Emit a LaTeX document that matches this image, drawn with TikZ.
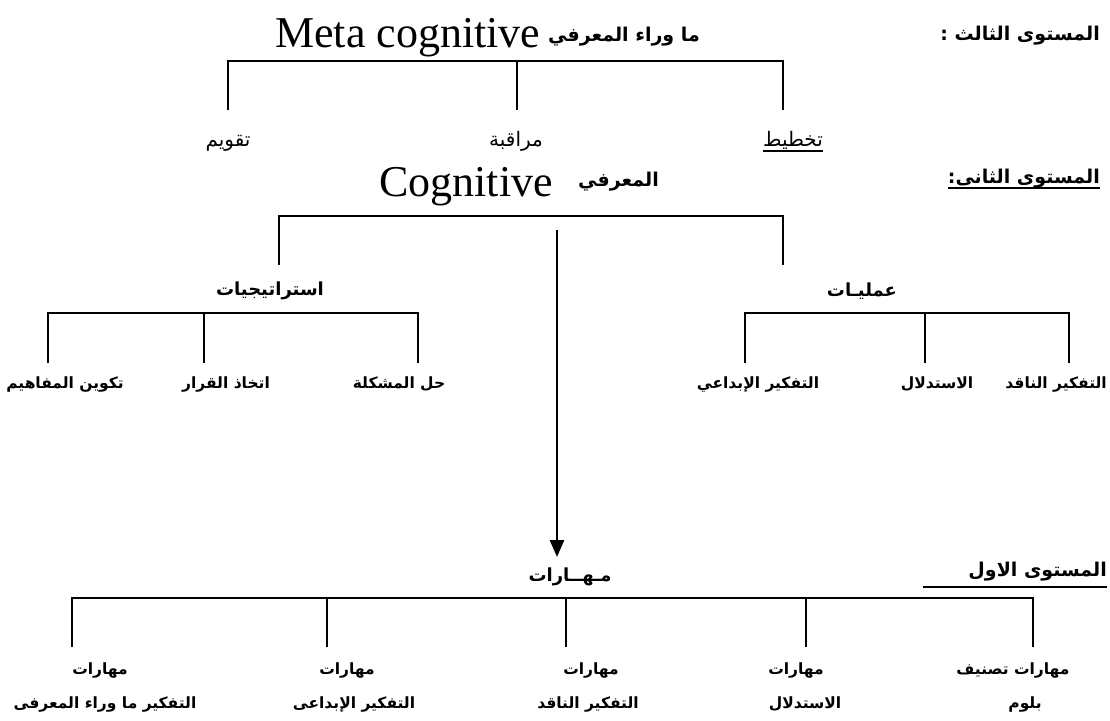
\documentclass[tikz,border=0pt]{standalone}
\usepackage{fontspec}
\setmainfont{Liberation Serif}
\newfontfamily\arfont[Script=Arabic]{DejaVu Sans}
\TeXXeTstate=1
\usetikzlibrary{arrows.meta}
\newcommand{\RL}[1]{\beginR #1\endR}
\begin{document}
\begin{tikzpicture}[x=1pt,y=-1pt,
  wire/.style={line width=2.6pt},
  uline/.style={line width=1.5pt},
  big/.style={font=\fontsize{44}{44}\selectfont, inner sep=0pt},
  hd/.style={font=\arfont\bfseries\fontsize{19}{22}\selectfont, inner sep=0pt},
  sub/.style={font=\arfont\bfseries\fontsize{18}{20}\selectfont, inner sep=0pt},
  meta/.style={font=\arfont\fontsize{20}{22}\selectfont, inner sep=0pt},
  leaf/.style={font=\arfont\bfseries\fontsize{15.5}{18}\selectfont, inner sep=0pt}]
\useasboundingbox[fill=white] (0,0) rectangle (1110,720);

% ---------- Level 3 ----------
\node[hd, anchor=base east] (l3) at (1100,40) {\RL{المستوى الثالث :}};
\node[hd, anchor=base east] (metaar) at (700,41) {\RL{ما وراء المعرفي}};
\node[big, anchor=base west] (metaen) at (275,47) {Meta cognitive};

\node[meta, anchor=base] (taqwim) at (228,146) {\RL{تقويم}};
\node[meta, anchor=base] (muraqaba) at (516,146) {\RL{مراقبة}};
\node[meta, anchor=base] (takhtit) at (793,146) {\RL{تخطيط}};
\draw[uline] ([yshift=-5pt]takhtit.base west) -- ([yshift=-5pt]takhtit.base east);

\coordinate (mb1) at (228,61);
\coordinate (mb2) at (517,61);
\coordinate (mb3) at (783,61);
\coordinate (mt1) at (228,110);
\coordinate (mt2) at (517,110);
\coordinate (mt3) at (783,110);
\draw[wire] (mt1) -- (mb1) -- (mb3) -- (mt3);
\draw[wire] (mb2) -- (mt2);

% ---------- Level 2 ----------
\node[hd, anchor=base east] (l2) at (1100,183) {\RL{المستوى الثانى:}};
\draw[uline] ([yshift=-5pt]l2.base west) -- ([yshift=-5pt]l2.base east);
\node[hd, anchor=base west] (cogar) at (578,186) {\RL{المعرفي}};
\node[big, anchor=base east] (cogen) at (553,196) {Cognitive};

\coordinate (cb1) at (279,216);
\coordinate (cb2) at (783,216);
\coordinate (ct1) at (279,265);
\coordinate (ct2) at (783,265);
\draw[wire] (ct1) -- (cb1) -- (cb2) -- (ct2);

\node[sub] (strat) at (270,291) {\RL{استراتيجيات}};
\node[sub] (amal) at (862,291) {\RL{عمليـات}};

\coordinate (sb1) at (48,313);
\coordinate (sb2) at (204,313);
\coordinate (sb3) at (418,313);
\coordinate (st1) at (48,363);
\coordinate (st2) at (204,363);
\coordinate (st3) at (418,363);
\draw[wire] (st1) -- (sb1) -- (sb3) -- (st3);
\draw[wire] (sb2) -- (st2);

\coordinate (ob1) at (745,313);
\coordinate (ob2) at (925,313);
\coordinate (ob3) at (1069,313);
\coordinate (ot1) at (745,363);
\coordinate (ot2) at (925,363);
\coordinate (ot3) at (1069,363);
\draw[wire] (ot1) -- (ob1) -- (ob3) -- (ot3);
\draw[wire] (ob2) -- (ot2);

\node[leaf] (takwin) at (65,384) {\RL{تكوين المفاهيم}};
\node[leaf] (ittikhadh) at (226,384) {\RL{اتخاذ القرار}};
\node[leaf] (hall) at (399,384) {\RL{حل المشكلة}};
\node[leaf] (ibdai) at (758,384) {\RL{التفكير الإبداعي}};
\node[leaf] (istidlal) at (937,384) {\RL{الاستدلال}};
\node[leaf, anchor=east] (naqid) at (1107,384) {\RL{التفكير الناقد}};

% ---------- Level 1 ----------
\node[sub] (mahar) at (570,577) {\RL{مـهــارات}};
\node[hd, anchor=base east] (l1) at (1107,576) {\RL{المستوى الاول}};
\draw[uline] ([yshift=-11pt]l1.base east) -- ++(-184,0);

\coordinate (arrtop) at (557,230);
\coordinate (arrtip) at (557,557);
\draw[wire, -{Triangle[length=17pt,width=14pt]}] (arrtop) -- (arrtip);

\coordinate (bb1) at (72,598);
\coordinate (bb2) at (327,598);
\coordinate (bb3) at (566,598);
\coordinate (bb4) at (806,598);
\coordinate (bb5) at (1033,598);
\coordinate (bt1) at (72,647);
\coordinate (bt2) at (327,647);
\coordinate (bt3) at (566,647);
\coordinate (bt4) at (806,647);
\coordinate (bt5) at (1033,647);
\draw[wire] (bt1) -- (bb1) -- (bb5) -- (bt5);
\draw[wire] (bb2) -- (bt2);
\draw[wire] (bb3) -- (bt3);
\draw[wire] (bb4) -- (bt4);

\node[leaf] (m1a) at (100,670) {\RL{مهارات}};
\node[leaf] (m1b) at (105,704) {\RL{التفكير ما وراء المعرفى}};
\node[leaf] (m2a) at (347,670) {\RL{مهارات}};
\node[leaf] (m2b) at (354,704) {\RL{التفكير الإبداعى}};
\node[leaf] (m3a) at (591,670) {\RL{مهارات}};
\node[leaf] (m3b) at (588,704) {\RL{التفكير الناقد}};
\node[leaf] (m4a) at (796,670) {\RL{مهارات}};
\node[leaf] (m4b) at (805,704) {\RL{الاستدلال}};
\node[leaf] (m5a) at (1013,670) {\RL{مهارات تصنيف}};
\node[leaf] (m5b) at (1025,704) {\RL{بلوم}};
\end{tikzpicture}
\end{document}
